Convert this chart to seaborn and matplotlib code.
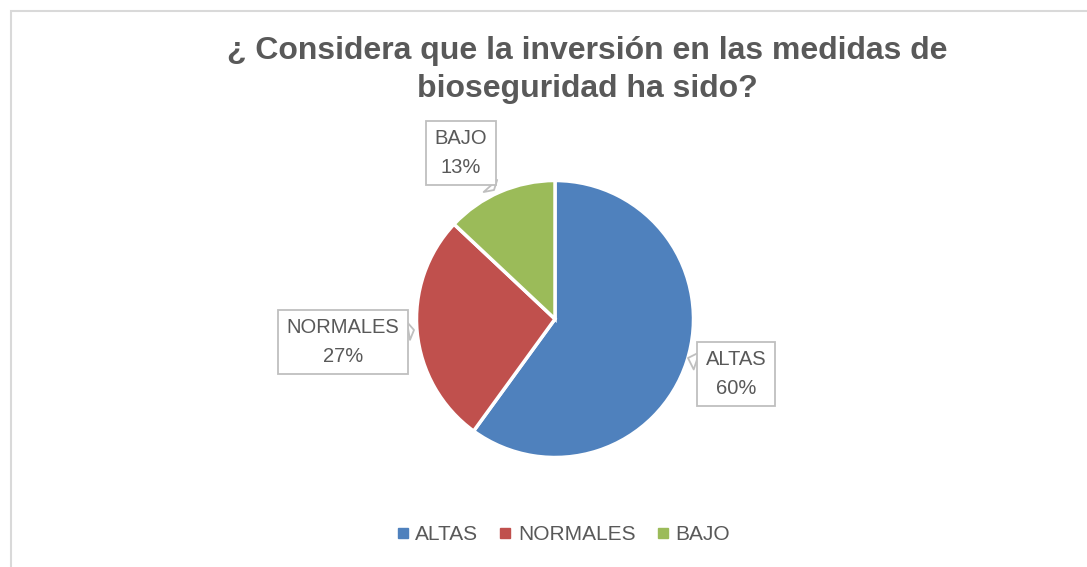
import matplotlib
matplotlib.use("Agg")
import matplotlib.pyplot as plt
from matplotlib.patches import Rectangle
from matplotlib.lines import Line2D
import seaborn as sns

# datos del gráfico
categorias = ["ALTAS", "NORMALES", "BAJO"]
porcentajes = [60, 27, 13]
colores = ["#4F81BD", "#C0504D", "#9BBB59"]
titulo = "¿ Considera que la inversión en las medidas de\nbioseguridad ha sido?"

sns.set_theme(style="white")
plt.rcParams['font.family'] = ['Liberation Sans', 'DejaVu Sans']
gris = "#595959"

W, H = 1087, 567
R = 138.5            # radio del pastel en px
cx, cy = 555, 319    # centro (px desde arriba)

fig = plt.figure(figsize=(W / 100, H / 100), dpi=100)
ax = fig.add_axes([0, 0, 1, 1])

wedges, _ = ax.pie(porcentajes, colors=colores, startangle=90, counterclock=False,
                   radius=1, center=(0, 0), frame=False,
                   wedgeprops=dict(edgecolor="white", linewidth=2.5))
ax.set_xlim(-cx / R, (W - cx) / R)
ax.set_ylim(-(H - cy) / R, cy / R)
ax.set_aspect("equal")
ax.axis("off")


def px(x, y):
    return (x - cx) / R, (cy - y) / R


# posiciones de las etiquetas (centro del cuadro) y punta del puntero
cajas = {"ALTAS": ((736, 374), (688, 358)),
         "NORMALES": ((343, 342), (414, 330)),
         "BAJO": ((461, 153), (494, 190))}

for cat, pct in zip(categorias, porcentajes):
    (tx, ty), (px_, py_) = cajas[cat]
    ax.annotate(f"{cat}\n{pct}%", xy=px(px_, py_), xytext=px(tx, ty),
                ha="center", va="center", fontsize=14.5, color=gris,
                linespacing=1.65,
                bbox=dict(boxstyle="square,pad=0.42", fc="white", ec="#BFBFBF", lw=1.3),
                arrowprops=dict(arrowstyle="wedge,tail_width=0.9", fc="white",
                                ec="#BFBFBF", lw=1.3, shrinkA=0, shrinkB=0))

fig.text(587 / W, 1 - 70 / H, titulo, ha="center", va="center", fontsize=23,
         fontweight="bold", color=gris, linespacing=1.35)

handles = [Line2D([], [], marker="s", linestyle="", markersize=7, color=c) for c in colores]
fig.legend(handles, categorias, loc="center", bbox_to_anchor=(562 / W, 1 - 535 / H),
           ncol=3, frameon=False, fontsize=15, labelcolor=gris, handletextpad=0.2,
           columnspacing=0.9, handlelength=0.8)

fig.patches.append(Rectangle((11 / W, -0.1), 1.2, 0.1 + (H - 11) / H,
                             transform=fig.transFigure, fill=False,
                             ec="#D9D9D9", lw=1.5))

fig.savefig("out.png", dpi=100)
